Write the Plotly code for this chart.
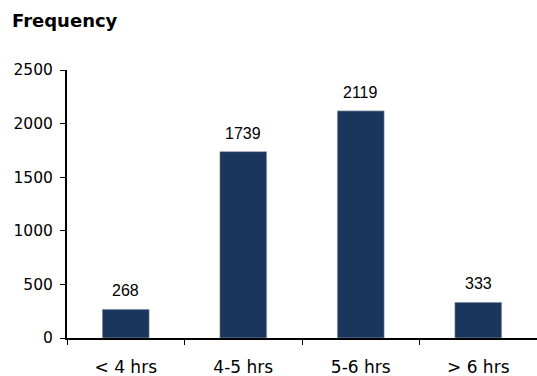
import plotly.graph_objects as go

categories = ["< 4 hrs", "4-5 hrs", "5-6 hrs", "> 6 hrs"]
values = [268, 1739, 2119, 333]
y_ticks = [0, 500, 1000, 1500, 2000, 2500]

fig = go.Figure()
fig.add_trace(go.Bar(
    x=categories, y=values, width=0.4,
    marker=dict(color="#1B365D", line=dict(color="#c8d0dc", width=0.5)),
    hoverinfo="skip",
))
for c, v in zip(categories, values):
    fig.add_annotation(x=c, y=v, text=str(v), showarrow=False, yanchor="bottom",
                       yshift=8, font=dict(family="Liberation Sans", size=16, color="#000"))

fig.add_annotation(xref="paper", yref="paper", x=-57/470, y=1, xanchor="left", yanchor="bottom",
                   yshift=37, text="<b>Frequency</b>", showarrow=False,
                   font=dict(family="DejaVu Sans", size=18, color="#000"))

fig.update_layout(
    width=537, height=376,
    margin=dict(l=67, r=0, t=70, b=38),
    paper_bgcolor="white", plot_bgcolor="white",
    showlegend=False,
    font=dict(family="DejaVu Sans", size=15, color="#000"),
)
fig.update_xaxes(
    type="category", range=[-0.5, 3.5], showline=True, linecolor="#000", linewidth=2,
    ticks="outside", tickson="boundaries", ticklen=5, tickcolor="#000", tickwidth=1,
    showgrid=False, tickfont=dict(size=17), ticklabelstandoff=13,
)
fig.update_yaxes(
    range=[0, 2500], tickvals=y_ticks, showline=True, linecolor="#000", linewidth=2,
    ticks="outside", ticklen=5, tickcolor="#000", tickwidth=1, showgrid=False, zeroline=False,
    tickfont=dict(size=15.5), ticklabelstandoff=4,
)
fig.write_html("out.html")
